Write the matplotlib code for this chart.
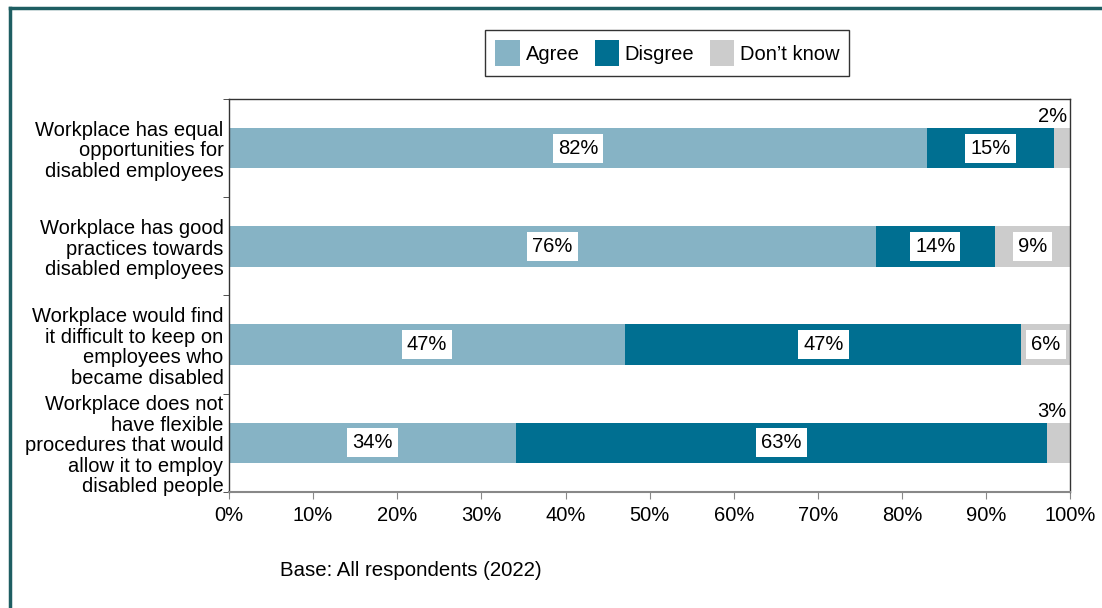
import matplotlib.pyplot as plt
from matplotlib.lines import Line2D

plt.rcParams['font.family'] = ['Liberation Sans', 'DejaVu Sans']

# statements, top to bottom
categories = [
    'Workplace has equal\nopportunities for\ndisabled employees',
    'Workplace has good\npractices towards\ndisabled employees',
    'Workplace would find\nit difficult to keep on\nemployees who\nbecame disabled',
    'Workplace does not\nhave flexible\nprocedures that would\nallow it to employ\ndisabled people',
]
agree = [82.95, 76.9, 47.1, 34.17]
disagree = [15.1, 14.1, 47.1, 63.06]
dont_know = [1.95, 9.0, 5.8, 2.77]
agree_labels = ['82%', '76%', '47%', '34%']
disagree_labels = ['15%', '14%', '47%', '63%']
dont_know_labels = ['2%', '9%', '6%', '3%']

series_names = ['Agree', 'Disgree', 'Don\u2019t know']
colors = ['#86b3c5', '#006f91', '#cccccc']

fig = plt.figure(figsize=(11.02, 6.08), dpi=100)
ax = fig.add_axes([0.2078, 0.1908, 0.7634, 0.6464])

y = list(range(len(categories)))
h = 0.41
ax.barh(y, agree, height=h, color=colors[0], label=series_names[0])
left2 = agree
ax.barh(y, disagree, left=left2, height=h, color=colors[1], label=series_names[1])
left3 = [a + d for a, d in zip(agree, disagree)]
ax.barh(y, dont_know, left=left3, height=h, color=colors[2], label=series_names[2])

box = dict(boxstyle='square,pad=0.25', fc='white', ec='none')
fs = 14.5
for i in y:
    ax.text(agree[i] / 2, i, agree_labels[i], ha='center', va='center', fontsize=fs, bbox=box)
    ax.text(left2[i] + disagree[i] / 2, i, disagree_labels[i], ha='center', va='center', fontsize=fs, bbox=box)
    if dont_know[i] < 4:
        # small segment: label sits above the bar
        ax.text(99.6, i - 0.32, dont_know_labels[i], ha='right', va='center', fontsize=fs)
    else:
        ax.text(left3[i] + dont_know[i] / 2, i, dont_know_labels[i], ha='center', va='center', fontsize=fs, bbox=box)

ax.set_xlim(0, 100)
ax.set_ylim(len(categories) - 0.5, -0.5)
ax.set_xticks(range(0, 101, 10))
ax.set_xticklabels([f'{v}%' for v in range(0, 101, 10)], fontsize=fs)
ax.set_yticks(y)
ax.set_yticklabels(categories, fontsize=fs, linespacing=1.1)
ax.tick_params(axis='y', which='major', length=0, pad=4)
ax.set_yticks([i - 0.5 for i in range(len(categories) + 1)], minor=True)
ax.tick_params(axis='y', which='minor', length=4, color='#333333')
ax.tick_params(axis='x', length=5, color='#888888', pad=5)

for s in ['left', 'top', 'right']:
    ax.spines[s].set_color('#333333')
    ax.spines[s].set_linewidth(1)
ax.spines['bottom'].set_color('#888888')
ax.spines['bottom'].set_linewidth(1.5)

leg = ax.legend(loc='center', bbox_to_anchor=(0.521, 1.117), ncol=3, fontsize=fs,
                frameon=True, fancybox=False, edgecolor='black', handlelength=1.2,
                handleheight=1.65, handletextpad=0.3, columnspacing=0.75, borderpad=0.5,
                borderaxespad=0)
leg.get_frame().set_linewidth(1)

fig.text(0.254, 0.062, 'Base: All respondents (2022)', fontsize=14.7, ha='left', va='center')

# teal frame on the left and top
frame = '#1e5e62'
fig.add_artist(Line2D([0.0095, 0.0095], [0, 0.987], color=frame, lw=2.5, transform=fig.transFigure))
fig.add_artist(Line2D([0.0095, 1], [0.987, 0.987], color=frame, lw=2.5, transform=fig.transFigure))

fig.savefig('out.png', dpi=100)
